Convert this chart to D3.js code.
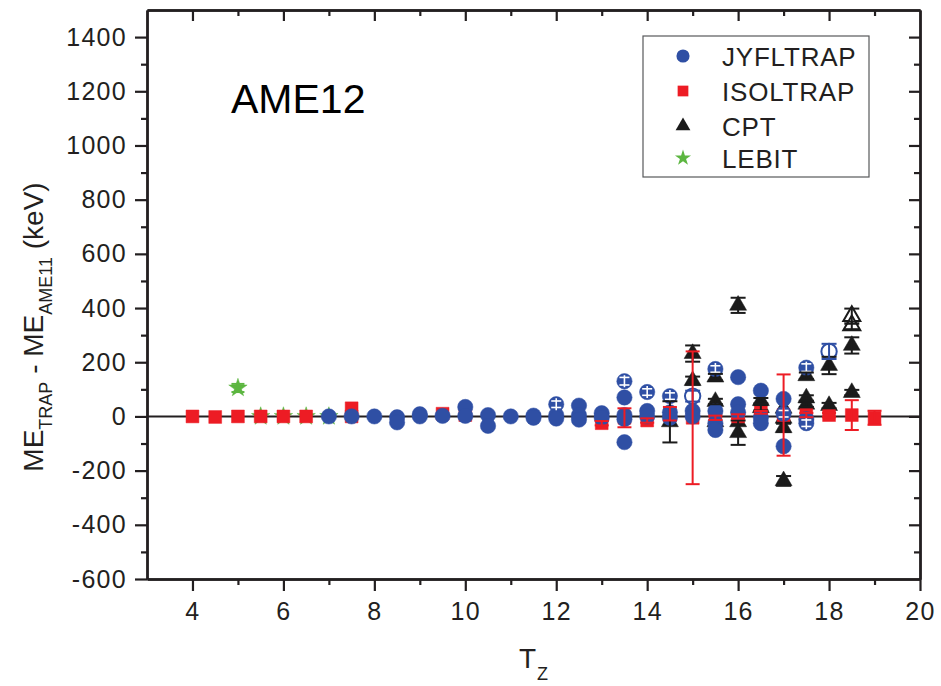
<!DOCTYPE html>
<html>
<head>
<meta charset="utf-8">
<script src="https://cdn.jsdelivr.net/npm/d3@7"></script>
<style>
  html, body { margin: 0; padding: 0; background: #fff; }
  svg { display: block; font-family: "Liberation Sans", Arial, sans-serif; }
</style>
</head>
<body>
<svg id="chart" width="941" height="686"></svg>
<script>
// ---- data: mass-excess differences (keV) versus isospin projection Tz ----
// JYFLTRAP; style 0 = filled, 1 = filled with inner bar, 2 = open
const jyflTz    = [7, 7.5, 8, 8.5, 8.5, 9, 9, 9.5, 10, 10, 10.5, 10.5, 11, 11.5, 11.5, 12, 12, 12, 12.5, 12.5, 12.5, 13, 13, 13.5, 13.5, 13.5, 13.5, 13.5, 14, 14, 14, 14.5, 14.5, 14.5, 15, 15, 15, 15.5, 15.5, 15.5, 15.5, 16, 16, 16, 16.5, 16.5, 16.5, 17, 17, 17, 17.5, 17.5, 17.5, 18];
const jyflVal   = [0, 0, 0, -3, -22, 8, 0, 2, 35, 2, 5, -35, 0, 3, -5, 45, 5, -8, 40, 5, -12, 12, -5, 130, 70, 5, -10, -95, 90, 20, 0, 75, 15, -5, 75, 20, 0, 175, 20, -25, -50, 145, 45, 15, 95, -5, -25, 65, 10, -110, 180, -10, -25, 240];
const jyflErr   = [0, 0, 0, 0, 0, 0, 0, 0, 0, 0, 0, 0, 0, 0, 0, 12, 0, 0, 0, 0, 0, 0, 0, 14, 0, 0, 0, 0, 12, 0, 0, 12, 0, 0, 20, 0, 0, 12, 0, 0, 0, 0, 0, 0, 0, 0, 0, 0, 12, 0, 14, 0, 12, 28];
const jyflStyle = [0, 0, 0, 0, 0, 0, 0, 0, 0, 0, 0, 0, 0, 0, 0, 1, 0, 0, 0, 0, 0, 0, 0, 1, 0, 0, 0, 0, 1, 0, 0, 1, 0, 0, 2, 0, 0, 1, 0, 0, 0, 0, 0, 0, 0, 0, 0, 0, 1, 0, 1, 0, 1, 2];

// ISOLTRAP
const isolTz  = [4, 4.5, 5, 5.5, 6, 6.5, 7.5, 7.5, 9.5, 10, 13, 13.5, 14, 14.5, 15, 15.5, 16, 16.5, 17, 17.5, 18, 18.5, 19];
const isolVal = [0, -2, 0, 0, 0, 0, 30, 0, 10, 5, -25, -5, -15, 10, -5, -5, 0, 15, 5, 5, 5, 5, -5];
const isolErr = [0, 0, 0, 0, 0, 0, 0, 0, 0, 0, 8, 35, 8, 25, 245, 8, 8, 5, 150, 8, 8, 55, 26];

// CPT; style 0 = filled, 2 = open
const cptTz    = [14.5, 15, 15, 15.5, 15.5, 15.5, 16, 16, 16, 16.5, 16.5, 17, 17, 17, 17, 17.5, 17.5, 17.5, 18, 18, 18.5, 18.5, 18.5, 18.5];
const cptVal   = [-20, 232, 132, 145, 55, -20, 410, -20, -60, 58, 32, 30, -7, -42, -238, 150, 68, 45, 188, 40, 262, 88, 370, 336];
const cptErr   = [76, 30, 15, 12, 10, 0, 28, 0, 45, 10, 10, 0, 0, 15, 18, 12, 10, 10, 32, 10, 30, 10, 28, 14];
const cptStyle = [0, 0, 0, 0, 0, 0, 0, 0, 0, 0, 0, 0, 0, 0, 0, 0, 0, 0, 0, 0, 0, 0, 2, 2];

// LEBIT
const lebitTz  = [5, 5.5, 6, 6.5, 7];
const lebitVal = [105, 0, 0, 0, 0];
const lebitErr = [15, 0, 0, 0, 0];

// axes
const xMajor = [4, 6, 8, 10, 12, 14, 16, 18, 20];
const xMinor = [3, 5, 7, 9, 11, 13, 15, 17, 19];
const yMajor = [-600, -400, -200, 0, 200, 400, 600, 800, 1000, 1200, 1400];
const yMinor = [-500, -300, -100, 100, 300, 500, 700, 900, 1100, 1300, 1500];

const seriesNames  = ["JYFLTRAP", "ISOLTRAP", "CPT", "LEBIT"];
const seriesColors = ["#2f4fa4", "#ed1c24", "#1b1b1b", "#5cb640"];
const panelLabel = "AME12";

// ---- layout ----
const svg = d3.select("#chart");
const L = 147, R = 920, T = 10, B = 579;
const x = d3.scaleLinear().domain([3, 20]).range([L, R]);
const y = d3.scaleLinear().domain([-600, 1500]).range([B, T]);
const ink = "#231f20";
const fmt = v => String(v).replace("\u2212", "-");

function rows(tz, val, err, style) {
  return tz.map((t, i) => ({ tz: t, v: val[i], e: err[i], s: style ? style[i] : 0 }));
}
const jyfl  = rows(jyflTz, jyflVal, jyflErr, jyflStyle);
const isol  = rows(isolTz, isolVal, isolErr);
const cpt   = rows(cptTz, cptVal, cptErr, cptStyle);
const lebit = rows(lebitTz, lebitVal, lebitErr);

// ---- zero line ----
svg.append("line")
  .attr("x1", L).attr("x2", R).attr("y1", y(0)).attr("y2", y(0))
  .attr("stroke", ink).attr("stroke-width", 2);

// ---- marks ----
const plot = svg.append("g");
const symCircle = d3.symbol().type(d3.symbolCircle).size(185);
const symSquare = d3.symbol().type(d3.symbolSquare).size(165);
const symTri    = d3.symbol().type(d3.symbolTriangle).size(125);
const symStar   = d3.symbol().type(d3.symbolStar).size(105);

function markers(data, sym, color) {
  const g = plot.append("g");
  g.selectAll("path").data(data).join("path")
    .attr("d", sym)
    .attr("transform", d => `translate(${x(d.tz)},${y(d.v)})`)
    .attr("fill", d => d.s === 2 ? "#fff" : color)
    .attr("stroke", color)
    .attr("stroke-width", d => d.s === 2 ? 2 : 0.5);
  return g;
}
function errorBars(data, color, capW) {
  const g = plot.append("g").attr("stroke", color).attr("stroke-width", 2);
  const d2 = data.filter(d => d.e > 0);
  g.selectAll("line.v").data(d2).join("line").attr("class", "v")
    .attr("x1", d => x(d.tz)).attr("x2", d => x(d.tz))
    .attr("y1", d => y(d.v - d.e)).attr("y2", d => y(d.v + d.e));
  ["+", "-"].forEach(sign => {
    g.selectAll("line.c" + (sign === "+" ? "p" : "m")).data(d2).join("line")
      .attr("class", "c" + (sign === "+" ? "p" : "m"))
      .attr("x1", d => x(d.tz) - capW / 2).attr("x2", d => x(d.tz) + capW / 2)
      .attr("y1", d => y(sign === "+" ? d.v + d.e : d.v - d.e))
      .attr("y2", d => y(sign === "+" ? d.v + d.e : d.v - d.e));
  });
  return g;
}

markers(lebit, symStar, seriesColors[3]);
markers(cpt, symTri, seriesColors[2]);
markers(isol, symSquare, seriesColors[1]);
markers(jyfl, symCircle, seriesColors[0]);

// inner bars on the JYFLTRAP points that carry their own uncertainty bar
const inner = plot.append("g").attr("stroke", "#fff").attr("stroke-width", 1.6);
jyfl.filter(d => d.s === 1).forEach(d => {
  const cx = x(d.tz), cy = y(d.v), h = Math.min(y(d.v - d.e) - cy, 6);
  inner.append("line").attr("x1", cx).attr("x2", cx).attr("y1", cy - 6).attr("y2", cy + 6);
  inner.append("line").attr("x1", cx - 5).attr("x2", cx + 5).attr("y1", cy - h).attr("y2", cy - h);
  inner.append("line").attr("x1", cx - 5).attr("x2", cx + 5).attr("y1", cy + h).attr("y2", cy + h);
});

errorBars(lebit, seriesColors[3], 13);
errorBars(cpt, seriesColors[2], 15);
errorBars(jyfl.filter(d => d.s === 2), seriesColors[0], 15);
errorBars(isol, seriesColors[1], 14);

// ---- axes ----
const axW = 2.4;
function styleAxis(g) {
  g.selectAll(".domain").attr("stroke", ink).attr("stroke-width", axW);
  g.selectAll(".tick line").attr("stroke", ink).attr("stroke-width", 2.2);
  g.selectAll(".tick text").attr("fill", ink).attr("font-size", 25)
    .attr("font-family", "'Liberation Sans', Arial, sans-serif").attr("letter-spacing", 1.3);
}
// left
svg.append("g").attr("transform", `translate(${L},0)`)
  .call(d3.axisLeft(y).tickValues(yMajor).tickSize(12).tickSizeOuter(0).tickPadding(8).tickFormat(fmt))
  .call(styleAxis);
svg.append("g").attr("transform", `translate(${L},0)`)
  .call(d3.axisLeft(y).tickValues(yMinor.filter(v => v < 1500)).tickSize(6).tickSizeOuter(0).tickFormat(""))
  .call(styleAxis);
// bottom
svg.append("g").attr("transform", `translate(0,${B})`)
  .call(d3.axisBottom(x).tickValues(xMajor).tickSize(12).tickSizeOuter(0).tickPadding(11).tickFormat(fmt))
  .call(styleAxis);
svg.append("g").attr("transform", `translate(0,${B})`)
  .call(d3.axisBottom(x).tickValues(xMinor.filter(v => v > 3)).tickSize(6).tickSizeOuter(0).tickFormat(""))
  .call(styleAxis);
// top (inward)
svg.append("g").attr("transform", `translate(0,${T})`)
  .call(d3.axisTop(x).tickValues(xMajor.filter(v => v < 20)).tickSize(-11).tickSizeOuter(0).tickFormat(""))
  .call(styleAxis);
svg.append("g").attr("transform", `translate(0,${T})`)
  .call(d3.axisTop(x).tickValues(xMinor.filter(v => v > 3)).tickSize(-6).tickSizeOuter(0).tickFormat(""))
  .call(styleAxis);
// right (inward)
svg.append("g").attr("transform", `translate(${R},0)`)
  .call(d3.axisRight(y).tickValues(yMajor.filter(v => v > -600)).tickSize(-11).tickSizeOuter(0).tickFormat(""))
  .call(styleAxis);
svg.append("g").attr("transform", `translate(${R},0)`)
  .call(d3.axisRight(y).tickValues(yMinor.filter(v => v < 1500)).tickSize(-6).tickSizeOuter(0).tickFormat(""))
  .call(styleAxis);

// ---- axis titles ----
const yt = svg.append("text")
  .attr("transform", "translate(43,327) rotate(-90)")
  .attr("text-anchor", "middle").attr("fill", ink).attr("font-size", 28);
yt.append("tspan").text("ME");
yt.append("tspan").attr("font-size", 18).attr("dy", 9).text("TRAP");
yt.append("tspan").attr("dy", -9).text(" - ME");
yt.append("tspan").attr("font-size", 18).attr("dy", 9).text("AME11");
yt.append("tspan").attr("dy", -9).text(" (keV)");

const xt = svg.append("text").attr("x", 519).attr("y", 668).attr("fill", ink).attr("font-size", 28);
xt.append("tspan").text("T");
xt.append("tspan").attr("font-size", 18).attr("dy", 12).attr("dx", 1).text("Z");

// ---- panel label ----
svg.append("text").attr("x", 231).attr("y", 113).attr("font-size", 41).attr("fill", "#000").text(panelLabel);

// ---- legend ----
const lg = svg.append("g");
lg.append("rect").attr("x", 643).attr("y", 36).attr("width", 226).attr("height", 141)
  .attr("fill", "#fff").attr("stroke", "#58595b").attr("stroke-width", 1.2);
const legSyms = [
  d3.symbol().type(d3.symbolCircle).size(135),
  d3.symbol().type(d3.symbolSquare).size(115),
  d3.symbol().type(d3.symbolTriangle).size(95),
  d3.symbol().type(d3.symbolStar).size(80)
];
const legY = [56, 91, 126, 158];
seriesNames.forEach((name, i) => {
  lg.append("path").attr("d", legSyms[i]()).attr("fill", seriesColors[i])
    .attr("transform", `translate(683,${legY[i]})`);
  lg.append("text").attr("x", 722).attr("y", legY[i] + 9.5).attr("font-size", 26)
    .attr("letter-spacing", 0.8).attr("fill", ink).text(name);
});
</script>
</body>
</html>
